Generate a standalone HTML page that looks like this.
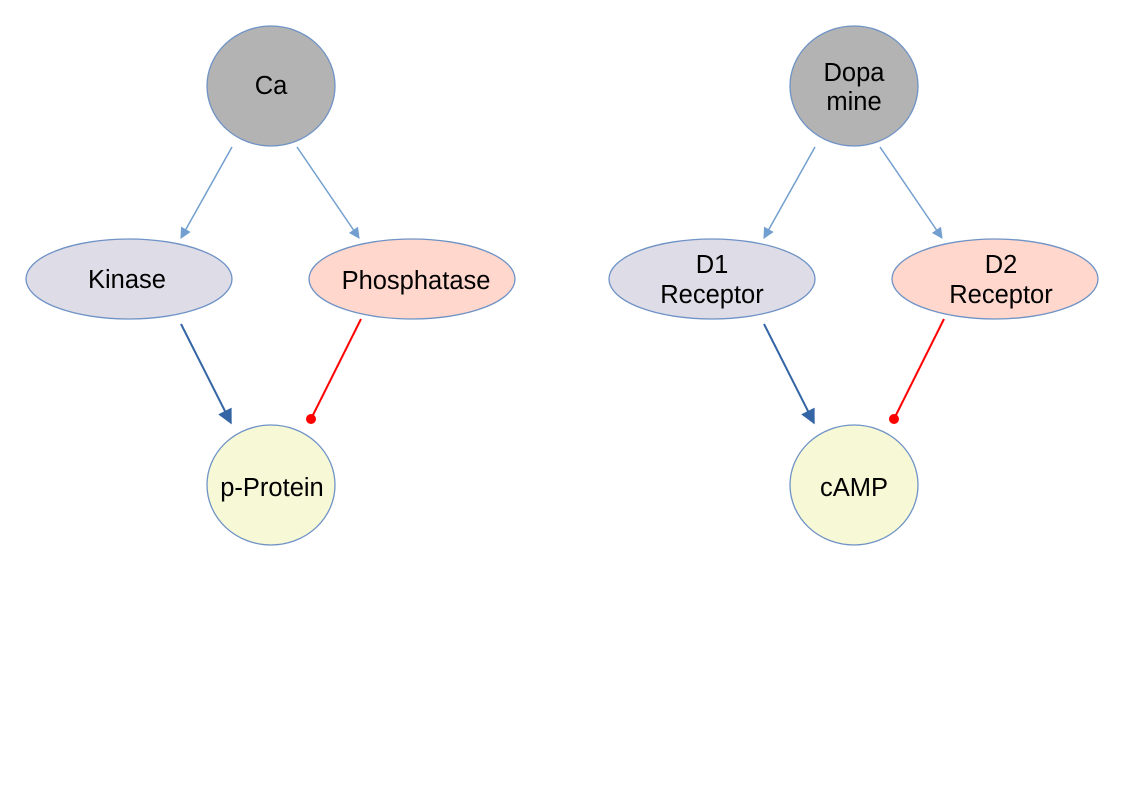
<!DOCTYPE html>
<html><head><meta charset="utf-8"><style>body{margin:0;background:#fff}svg{display:block}</style></head><body>
<svg width="1123" height="794" viewBox="0 0 1123 794" xmlns="http://www.w3.org/2000/svg" font-family="Liberation Sans, sans-serif" font-size="25.5" text-anchor="middle">
<defs>
<marker id="la" viewBox="0 0 10 10" refX="9" refY="5" markerWidth="12" markerHeight="11" markerUnits="userSpaceOnUse" orient="auto"><path d="M0,0L10,5L0,10z" fill="#729fcf"/></marker>
<marker id="da" viewBox="0 0 10 10" refX="9" refY="5" markerWidth="16" markerHeight="15" markerUnits="userSpaceOnUse" orient="auto"><path d="M0,0L10,5L0,10z" fill="#3465a4"/></marker>
</defs>
<g id="L">
<g stroke="#729fcf" stroke-width="1.5" fill="none">
<line x1="232" y1="147" x2="181" y2="238" marker-end="url(#la)"/>
<line x1="297" y1="147" x2="359" y2="238" marker-end="url(#la)"/>
</g>
<line x1="181" y1="324" x2="231" y2="423" stroke="#3465a4" stroke-width="2" marker-end="url(#da)"/>
<line x1="361" y1="319" x2="311" y2="419" stroke="#ff0000" stroke-width="2"/>
<circle cx="311" cy="419" r="5" fill="#ff0000"/>
</g>
<use href="#L" x="583"/>
<g stroke="#6f93c6" stroke-width="1.3">
<ellipse cx="271" cy="86" rx="64" ry="60" fill="#b3b3b3"/>
<ellipse cx="129" cy="279" rx="103" ry="40" fill="#dedce6"/>
<ellipse cx="412" cy="279" rx="103" ry="40" fill="#ffd7cc"/>
<ellipse cx="271" cy="485" rx="64" ry="60" fill="#f6f8d6"/>
<ellipse cx="854" cy="86" rx="64" ry="60" fill="#b3b3b3"/>
<ellipse cx="712" cy="279" rx="103" ry="40" fill="#dedce6"/>
<ellipse cx="995" cy="279" rx="103" ry="40" fill="#ffd7cc"/>
<ellipse cx="854" cy="485" rx="64" ry="60" fill="#f6f8d6"/>
</g>
<g fill="#000">
<text x="271" y="94">Ca</text>
<text x="127" y="288">Kinase</text>
<text x="416" y="289">Phosphatase</text>
<text x="272" y="496">p-Protein</text>
<text x="854" y="81">Dopa</text>
<text x="854" y="110">mine</text>
<text x="712" y="273">D1</text>
<text x="712" y="303">Receptor</text>
<text x="1001" y="273">D2</text>
<text x="1001" y="303">Receptor</text>
<text x="854" y="496">cAMP</text>
</g>
</svg>
</body></html>
